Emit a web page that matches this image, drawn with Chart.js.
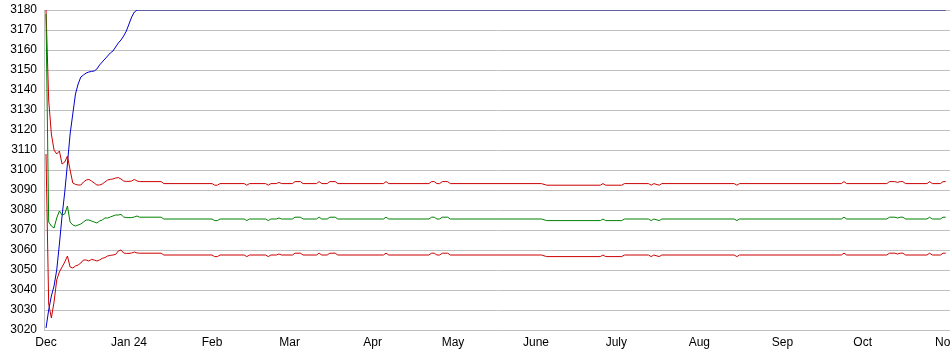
<!DOCTYPE html>
<html>
<head>
<meta charset="utf-8">
<script src="https://cdn.jsdelivr.net/npm/chart.js@4/dist/chart.umd.min.js"></script>
<style>
  html, body { margin: 0; padding: 0; background: #fff; overflow: hidden; }
  #chart { display: block; }
</style>
</head>
<body>
<canvas id="chart" width="950" height="355"></canvas>
<script>
// Daily band chart, Dec 2023 - Nov 2024 (x = days since 1 Dec)

const monthLabels = ['Dec', 'Jan 24', 'Feb', 'Mar', 'Apr', 'May', 'June', 'July', 'Aug', 'Sep', 'Oct', 'Nov'];
const monthDays = [0, 31, 62, 91, 122, 152, 183, 213, 244, 275, 305, 336];

// days shared by the band series (daily through December, then only where the value changes)
const bandDays = [
    0, 1, 2, 3, 4, 5, 6, 7, 8, 9, 10, 11, 12, 13, 14, 15, 16, 17, 18, 19,
    20, 21, 22, 23, 24, 25, 26, 27, 28, 29, 30, 31, 32, 33, 34, 35,
    43, 44, 62, 63, 64, 65, 74, 75, 76, 82, 83, 84, 86, 87, 88, 92, 93, 95, 96,
    101, 102, 103, 105, 106, 108, 109, 126, 127, 128,
    143, 144, 145, 146, 147, 148, 150, 151, 185, 187,
    207, 208, 209, 215, 216, 225, 226, 227, 229, 230, 257, 258, 259,
    297, 298, 299, 314, 315, 317, 318, 319, 320, 321, 329, 330, 331, 334, 335, 336
];

const upperBand = [
    3180, 3135, 3118, 3110, 3108, 3109.5, 3103, 3104, 3107, 3100, 3093.5, 3092.8, 3092.5, 3092.5, 3094, 3095, 3095.3, 3094.5, 3093.5, 3092.5,
    3092.5, 3093, 3094, 3095, 3095.3, 3095.5, 3096, 3096.2, 3095.5, 3094.5, 3094.3, 3094.3, 3094.5, 3095.3, 3094.5, 3094.2,
    3094.2, 3093.2, 3093.2, 3092.4, 3092.4, 3093.2, 3093.2, 3092.4, 3093.2, 3093.2, 3092.4, 3093.2, 3093.2, 3093.8, 3093.2, 3093.2, 3094.2, 3094.2, 3093.2,
    3093.2, 3094.2, 3093.2, 3093.2, 3094.2, 3094.2, 3093.2, 3093.2, 3094.2, 3093.2,
    3093.2, 3094.2, 3094.2, 3093.2, 3093.2, 3094.2, 3094.2, 3093.2, 3093.2, 3092.4,
    3092.4, 3093.2, 3092.4, 3092.4, 3093.2, 3093.2, 3092.4, 3093.2, 3092.4, 3093.2, 3093.2, 3092.4, 3093.2,
    3093.2, 3094.2, 3093.2, 3093.2, 3094.2, 3094.2, 3093.8, 3094.2, 3094.2, 3093.2, 3093.2, 3094.2, 3093.2, 3093.2, 3094.2, 3094.2
];

const meanBand = [
    3178, 3074, 3072, 3071, 3076, 3079.5, 3077.5, 3078, 3082, 3074, 3072.5, 3072, 3072.5, 3073, 3074, 3075, 3075, 3074.5, 3074, 3073.5,
    3074.5, 3075, 3076, 3076, 3076.5, 3077, 3077.5, 3077.5, 3077.8, 3076.5, 3076.2, 3076.2, 3076.2, 3076.5, 3077, 3076.4,
    3076.4, 3075.5, 3075.5, 3074.7, 3074.7, 3075.5, 3075.5, 3074.7, 3075.5, 3075.5, 3074.7, 3075.5, 3075.5, 3076, 3075.5, 3075.5, 3076.4, 3076.4, 3075.5,
    3075.5, 3076.4, 3075.5, 3075.5, 3076.4, 3076.4, 3075.5, 3075.5, 3076.4, 3075.5,
    3075.5, 3076.4, 3076.4, 3075.5, 3075.5, 3076.4, 3076.4, 3075.5, 3075.5, 3074.7,
    3074.7, 3075.5, 3074.7, 3074.7, 3075.5, 3075.5, 3074.7, 3075.5, 3074.7, 3075.5, 3075.5, 3074.7, 3075.5,
    3075.5, 3076.4, 3075.5, 3075.5, 3076.4, 3076.4, 3076, 3076.4, 3076.4, 3075.5, 3075.5, 3076.4, 3075.5, 3075.5, 3076.4, 3076.4
];

const lowerBand = [
    3108, 3033, 3026, 3034, 3045, 3049, 3051.5, 3054, 3057, 3051.5, 3051, 3052, 3052.5, 3053.5, 3055, 3055, 3054.5, 3055.3, 3055, 3054.5,
    3055, 3055.8, 3056.2, 3057, 3057.3, 3057.5, 3057.8, 3059.5, 3060, 3058.5, 3058.3, 3058.3, 3058.5, 3059, 3058.5, 3058.4,
    3058.4, 3057.5, 3057.5, 3056.7, 3056.7, 3057.5, 3057.5, 3056.7, 3057.5, 3057.5, 3056.7, 3057.5, 3057.5, 3058, 3057.5, 3057.5, 3058.4, 3058.4, 3057.5,
    3057.5, 3058.4, 3057.5, 3057.5, 3058.4, 3058.4, 3057.5, 3057.5, 3058.4, 3057.5,
    3057.5, 3058.4, 3058.4, 3057.5, 3057.5, 3058.4, 3058.4, 3057.5, 3057.5, 3056.7,
    3056.7, 3057.5, 3056.7, 3056.7, 3057.5, 3057.5, 3056.7, 3057.5, 3056.7, 3057.5, 3057.5, 3056.7, 3057.5,
    3057.5, 3058.4, 3057.5, 3057.5, 3058.4, 3058.4, 3058, 3058.4, 3058.4, 3057.5, 3057.5, 3058.4, 3057.5, 3057.5, 3058.4, 3058.4
];

const maxDays = [
    0, 1, 2, 3, 4, 5, 6, 7, 8, 9, 10, 11, 12, 13, 14, 15, 16, 17, 18, 19,
    20, 21, 22, 23, 24, 25, 26, 27, 28, 29, 30, 31, 32, 33, 34, 336
];
const maxValues = [
    3021, 3030, 3037, 3042, 3050, 3063, 3077, 3089, 3103, 3118, 3128, 3138, 3143, 3146.5, 3147.5, 3148.5, 3149, 3149.3, 3149.5, 3150.5,
    3152.5, 3154, 3155.5, 3157, 3158.5, 3159.5, 3161.5, 3163.5, 3165, 3167, 3169.5, 3173, 3176.5, 3179, 3180, 3180
];

const yMin = 3020;
const yMax = 3180;

function toPoints(days, values) {
    return days.map((d, i) => ({ x: d, y: values[i] }));
}

function lineSet(days, values, color) {
    return {
        data: toPoints(days, values),
        borderColor: color,
        borderWidth: 1,
        pointRadius: 0,
        tension: 0,
        fill: false
    };
}

Chart.defaults.font.family = '"Liberation Sans", Arial, sans-serif';
Chart.defaults.font.size = 12;
Chart.defaults.color = '#000';

const maxSet = lineSet(maxDays, maxValues, '#0000cc');
maxSet.segment = {
    borderColor: ctx => (ctx.p0.parsed.y >= yMax && ctx.p1.parsed.y >= yMax) ? '#000080' : '#0000cc'
};

new Chart(document.getElementById('chart').getContext('2d'), {
    type: 'line',
    data: {
        datasets: [
            lineSet(bandDays, lowerBand, '#cc0000'),
            lineSet(bandDays, meanBand, '#008000'),
            lineSet(bandDays, upperBand, '#cc0000'),
            maxSet
        ]
    },
    options: {
        responsive: false,
        devicePixelRatio: 1,
        animation: false,
        layout: { padding: { top: 10, right: 0, bottom: 0, left: 0 } },
        plugins: {
            legend: { display: false },
            tooltip: { enabled: false }
        },
        scales: {
            x: {
                type: 'linear',
                min: -0.75,
                max: 337.6,
                afterBuildTicks: axis => {
                    axis.ticks = monthDays.map(v => ({ value: v }));
                },
                afterFit: axis => {
                    axis.height = 25;
                    axis.paddingLeft = 0;
                    axis.paddingRight = 0;
                },
                ticks: {
                    autoSkip: false,
                    maxRotation: 0,
                    padding: -3,
                    callback: (value, index) => monthLabels[index]
                },
                grid: { display: false },
                border: { display: true, color: '#c0c0c0' }
            },
            y: {
                min: yMin,
                max: yMax,
                afterFit: axis => {
                    axis.width = 44;
                    axis.paddingTop = 0;
                    axis.paddingBottom = 0;
                },
                ticks: {
                    stepSize: 10,
                    padding: 7,
                    callback: value => String(value)
                },
                grid: { color: '#c0c0c0', drawTicks: false },
                border: { display: true, color: '#c0c0c0' }
            }
        }
    }
});
</script>
</body>
</html>
